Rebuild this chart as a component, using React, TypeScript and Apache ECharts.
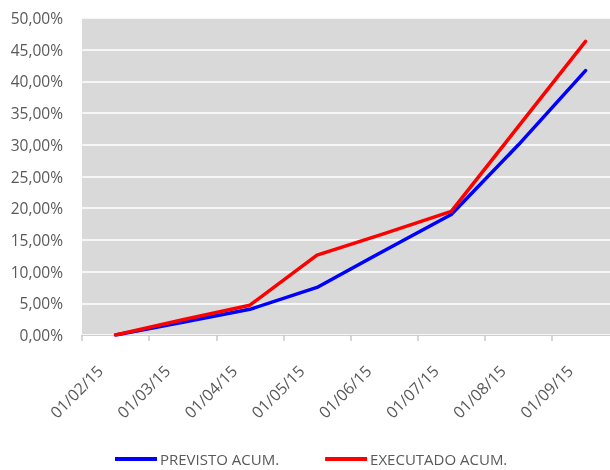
import React, { useEffect, useRef } from "react";
import * as echarts from "echarts";

const months = ["01/02/15", "01/03/15", "01/04/15", "01/05/15", "01/06/15", "01/07/15", "01/08/15", "01/09/15"];
const previsto = [0, 2.0, 4.05, 7.5, 13.3, 19.0, 30.0, 41.7];
const executado = [0, 2.4, 4.7, 12.6, 16.0, 19.5, 32.9, 46.3];
const seriesNames = ["PREVISTO ACUM.", "EXECUTADO ACUM."];
const seriesColors = ["#0000ff", "#ff0000"];

const fmtPct = (v: number) => v.toFixed(2).replace(".", ",") + "%";

export default function App() {
  const ref = useRef<HTMLDivElement>(null);
  useEffect(() => {
    if (!ref.current) return;
    const chart = echarts.init(ref.current, null, { renderer: "svg" });
    const tickVals = months.map((_, i) => i);
    const xMax = 528 / 67.14;
    const shift = 18 / 67.14;
    const toPts = (arr: number[]) => arr.map((v, i) => [i + 0.5, v]);
    chart.setOption({
      animation: false,
      textStyle: { fontFamily: "Open Sans" },
      grid: {
        left: 82,
        right: 0,
        top: 18,
        bottom: 135,
        show: true,
        backgroundColor: "#d9d9d9",
        borderWidth: 0,
        containLabel: false,
      },
      legend: {
        left: 115,
        top: 451,
        icon: "rect",
        itemWidth: 42,
        itemHeight: 4,
        itemGap: 46,
        padding: 0,
        textStyle: { color: "#595959", fontSize: 15, lineHeight: 16, fontFamily: "Open Sans", padding: [0, 0, 0, -2] },
        data: seriesNames,
      },
      xAxis: [
        {
          type: "value",
          min: 0,
          max: xMax,
          axisLine: { show: true, lineStyle: { color: "#d0d0d0", width: 1 } },
          axisTick: { show: true, customValues: tickVals, length: 6, lineStyle: { color: "#c8c8c8", width: 1.5 } },
          axisLabel: { show: false },
          splitLine: { show: false },
        },
        {
          type: "value",
          position: "bottom",
          min: -shift,
          max: xMax - shift,
          axisLine: { show: false },
          axisTick: { show: false },
          splitLine: { show: false },
          axisLabel: {
            show: true,
            customValues: tickVals,
            rotate: 45,
            margin: 33,
            color: "#595959",
            fontSize: 16,
            fontFamily: "Open Sans",
            formatter: (v: number) => months[Math.round(v)] ?? "",
          },
        },
      ],
      yAxis: {
        type: "value",
        min: 0,
        max: 50,
        interval: 5,
        axisLine: { show: false },
        axisTick: { show: false },
        axisLabel: { margin: 19, color: "#595959", fontSize: 15.5, fontFamily: "Open Sans", formatter: fmtPct },
        splitLine: { show: true, lineStyle: { color: "#ffffff", width: 1.5 } },
      },
      series: [
        {
          name: seriesNames[0],
          type: "line",
          xAxisIndex: 0,
          data: toPts(previsto),
          symbol: "none",
          color: seriesColors[0],
          lineStyle: { color: seriesColors[0], width: 3.5, cap: "round", join: "round" },
        },
        {
          name: seriesNames[1],
          type: "line",
          xAxisIndex: 0,
          data: toPts(executado),
          symbol: "none",
          color: seriesColors[1],
          lineStyle: { color: seriesColors[1], width: 3.5, cap: "round", join: "round" },
        },
      ],
    });
    return () => chart.dispose();
  }, []);
  return <div ref={ref} style={{ position: "fixed", left: 0, top: 0, width: 610, height: 470 }} />;
}
